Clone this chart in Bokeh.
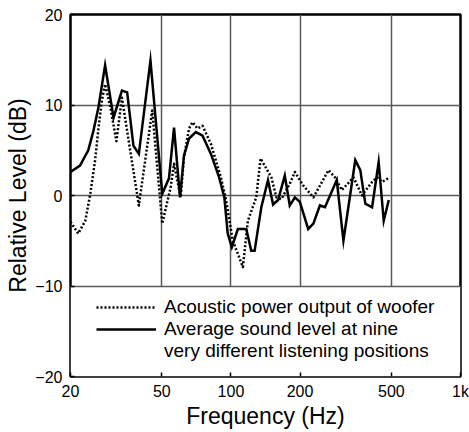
from bokeh.plotting import figure
from bokeh.models import FixedTicker, Legend, LegendItem, BoxAnnotation, Range1d
from bokeh.embed import file_html
from bokeh.resources import INLINE

# ---- data ----
x_ticks = [20, 50, 100, 200, 500, 1000]
x_tick_labels = ["20", "50", "100", "200", "500", "1k"]
y_ticks = [-20, -10, 0, 10, 20]
y_tick_labels = ["\u221220", "\u221210", "0", "10", "20"]

# Average sound level at nine listening positions (solid)
solid_freq = [20.0, 22.0, 23.9, 25.2, 26.5, 28.3, 30.8, 33.5, 35.3, 37.6, 39.7, 44.6,
              50.2, 53.7, 56.5, 60.0, 62.4, 65.7, 70.3, 75.2, 81.8, 88.8, 93.6, 96.8,
              100.9, 107.2, 116.6, 122.6, 126.8, 135.6, 145.0, 152.6, 160.5, 171.6,
              180.4, 189.9, 199.6, 217.0, 228.6, 244.0, 256.8, 289.0, 309.0, 348.0,
              366.0, 385.0, 412.0, 440.0, 463.0, 487.0]
solid_db = [2.6, 3.3, 5.0, 7.2, 9.8, 14.4, 8.6, 11.6, 11.4, 5.5, 4.6, 14.9,
            0.2, 1.9, 7.5, -0.2, 4.4, 6.3, 7.0, 6.6, 4.6, 2.0, -0.2, -4.2,
            -5.7, -3.7, -3.7, -6.1, -6.1, -1.3, 1.7, -1.0, -0.5, 2.2,
            -1.1, -0.2, -0.7, -3.7, -3.1, -1.1, -1.3, 1.7, -5.0, 3.9,
            2.8, -0.9, -1.3, 3.7, -2.8, -0.5]

# Acoustic power output of woofer (dotted)
dot_freq = [20.0, 21.6, 23.2, 24.4, 25.6, 26.5, 27.4, 28.3, 29.8, 31.7, 33.5, 39.7,
            45.4, 50.2, 54.6, 56.5, 60.4, 62.4, 65.7, 68.0, 71.5, 75.2, 81.8, 90.4,
            95.2, 101.9, 112.7, 118.5, 128.9, 134.6, 150.0, 157.7, 165.9, 180.4,
            189.8, 206.5, 228.6, 266.0, 284.0, 304.0, 342.0, 372.0, 412.0, 433.0,
            456.0, 484.0]
dot_db = [-2.9, -4.2, -2.8, 0.2, 3.9, 7.5, 10.5, 12.3, 9.8, 6.0, 10.8, -1.1,
          9.4, -3.1, 0.9, 3.5, -0.2, 4.2, 7.4, 8.1, 7.4, 7.7, 5.7, 2.0,
          -0.5, -5.0, -7.9, -2.8, -0.2, 4.1, 2.0, -0.2, -0.4, 1.3,
          2.6, 1.1, -0.2, 2.8, 2.0, 0.6, 2.0, 0.0, 1.5, 2.0,
          1.5, 1.9]

legend_labels = ["Acoustic power output of woofer",
                 "Average sound level at nine",
                 "very different listening positions"]

FONT = "Liberation Sans"

p = figure(width=469, height=432, x_axis_type="log",
           x_range=Range1d(20, 1000), y_range=Range1d(-20, 20),
           output_backend="svg", toolbar_location=None,
           min_border_left=70, min_border_right=9, min_border_top=14,
           min_border_bottom=56)

p.background_fill_color = "white"
p.border_fill_color = "white"
p.outline_line_color = "black"
p.outline_line_width = 2.5

xt = FixedTicker(ticks=x_ticks, minor_ticks=[])
yt = FixedTicker(ticks=y_ticks, minor_ticks=[])
p.xaxis.ticker = xt
p.yaxis.ticker = yt
p.xgrid.ticker = xt
p.ygrid.ticker = yt
p.xaxis.major_label_overrides = dict(zip(x_ticks, x_tick_labels))
p.yaxis.major_label_overrides = dict(zip(y_ticks, y_tick_labels))

for ax in (p.xaxis[0], p.yaxis[0]):
    ax.axis_line_color = None
    ax.major_tick_in = 4
    ax.major_tick_out = 0
    ax.major_tick_line_color = "black"
    ax.major_tick_line_width = 1.5
    ax.minor_tick_line_color = None
    ax.major_label_text_font = FONT
    ax.major_label_text_font_size = "16px"
    ax.major_label_text_color = "black"
    ax.axis_label_text_font = FONT
    ax.axis_label_text_font_size = "23px"
    ax.axis_label_text_font_style = "normal"
    ax.axis_label_text_color = "black"

p.xaxis.axis_label = "Frequency (Hz)"
p.yaxis.axis_label = "Relative Level (dB)"
p.xaxis.major_label_standoff = 6
p.xaxis.axis_label_standoff = 0
p.yaxis.major_label_standoff = 8
p.yaxis.axis_label_standoff = 1

for g in (p.xgrid[0], p.ygrid[0]):
    g.grid_line_color = "#595959"
    g.grid_line_width = 1.5
p.xgrid.level = "image"

# white band behind the legend (vertical grid lines stop at -10)
band = BoxAnnotation(bottom=-20, top=-10, fill_color="white", fill_alpha=1.0,
                     line_color=None, level="image")
p.add_layout(band)

r_dot = p.line(dot_freq, dot_db, line_color="black", line_width=2.5,
               line_dash="2 2", line_join="round")
r_sol = p.line(solid_freq, solid_db, line_color="black", line_width=2.5,
               line_join="miter")
r_blank = p.line([], [], line_alpha=0)

legend = Legend(items=[LegendItem(label=legend_labels[0], renderers=[r_dot]),
                       LegendItem(label=legend_labels[1], renderers=[r_sol]),
                       LegendItem(label=legend_labels[2], renderers=[r_blank])],
                location=(26, 14), padding=0, margin=0, spacing=0,
                glyph_width=60, glyph_height=22, label_height=22,
                label_standoff=8, label_text_font=FONT,
                label_text_font_size="19px", label_text_color="black",
                background_fill_alpha=0, border_line_alpha=0)
p.add_layout(legend)

open("out.html", "w").write(file_html(p, INLINE))
